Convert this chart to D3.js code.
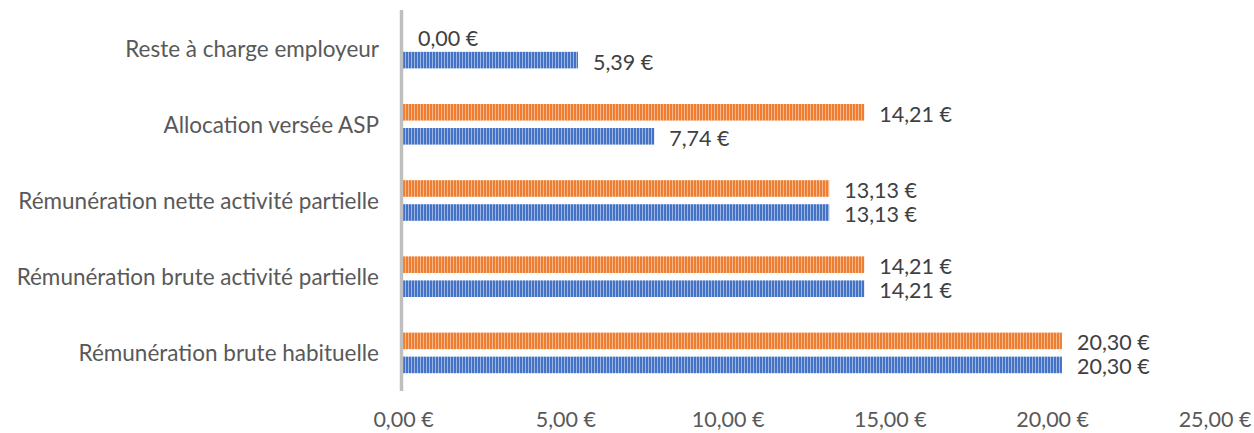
<!DOCTYPE html>
<html><head><meta charset="utf-8">
<script src="https://cdn.jsdelivr.net/npm/d3@7"></script>
<style>body{margin:0;background:#fff}svg{display:block}</style>
</head><body><svg id="c" width="1254" height="433"></svg>
<script>
const categories = ["Reste à charge employeur","Allocation versée ASP","Rémunération nette activité partielle","Rémunération brute activité partielle","Rémunération brute habituelle"];
const seriesNames = ["Série orange","Série bleue"];
const orangeValues = [0.00, 14.21, 13.13, 14.21, 20.30];
const blueValues = [5.39, 7.74, 13.13, 14.21, 20.30];
const tickValues = [0,5,10,15,20,25];

const fmt = v => v.toFixed(2).replace(".", ",") + " €";
const svg = d3.select("#c");
const font = "Lato, 'Noto Sans', sans-serif";
const fs = "22.5px";
const fsVal = "21.5px";
const x = d3.scaleLinear().domain([0,25]).range([403,1214.5]);
const y = d3.scaleBand().domain(categories).range([10,391]).paddingInner(0).paddingOuter(0);
const inner = d3.scaleBand().domain(seriesNames).range([17.8, y.bandwidth()-17.8]).paddingInner(0.31);
const colors = {"Série orange":["#ED7D31","#F6B98E"],"Série bleue":["#4472C4","#9DB5E2"]};

const defs = svg.append("defs");
Object.entries(colors).forEach(([k,c],i)=>{
  const p = defs.append("pattern").attr("id","p"+i).attr("patternUnits","userSpaceOnUse").attr("width",3).attr("height",10).attr("x",403);
  p.append("rect").attr("width",3).attr("height",10).attr("fill",c[1]);
  p.append("rect").attr("width",2).attr("height",10).attr("fill",c[0]);
});

const data = [];
categories.forEach((c,i)=>{
  data.push({cat:c, s:"Série orange", v:orangeValues[i], pi:0});
  data.push({cat:c, s:"Série bleue", v:blueValues[i], pi:1});
});

svg.append("g").selectAll("rect").data(data).join("rect")
  .attr("x", x(0))
  .attr("y", d=>y(d.cat)+inner(d.s))
  .attr("width", d=>x(d.v)-x(0))
  .attr("height", inner.bandwidth())
  .attr("fill", d=>`url(#p${d.pi})`);

svg.append("g").selectAll("text").data(data).join("text")
  .attr("x", d=>x(d.v)+15)
  .attr("y", d=>y(d.cat)+inner(d.s)+inner.bandwidth()/2)
  .attr("dy","0.44em")
  .attr("font-family",font).attr("font-size",fsVal).attr("fill","#404040")
  .text(d=>fmt(d.v));

// category axis line
svg.append("line").attr("x1",401.5).attr("x2",401.5).attr("y1",10).attr("y2",391)
  .attr("stroke","#BFBFBF").attr("stroke-width",3.5);

// category labels
svg.append("g").selectAll("text").data(categories).join("text")
  .attr("x",379).attr("y",d=>y(d)+y.bandwidth()/2).attr("dy","0.38em")
  .attr("text-anchor","end").attr("font-family",font).attr("font-size",fs).attr("fill","#595959")
  .text(d=>d);

// x axis tick labels
const xa = svg.append("g").attr("transform","translate(0,412)")
  .call(d3.axisBottom(x).tickValues(tickValues).tickFormat(fmt).tickSize(0).tickPadding(0));
xa.select(".domain").remove();
xa.selectAll("text").attr("font-family",font).attr("font-size",fsVal).attr("fill","#595959");
</script></body></html>
